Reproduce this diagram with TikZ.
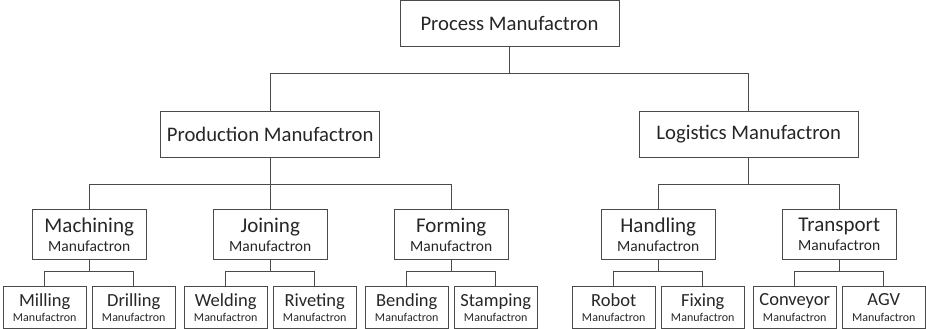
\documentclass[tikz,border=0pt]{standalone}
\usepackage{fontspec}
\setmainfont{Carlito}
\usetikzlibrary{trees}
\definecolor{boxline}{HTML}{4A4A4A}
\definecolor{boxtext}{HTML}{262626}
\newcommand{\midsub}{\fontsize{15.5}{19}\selectfont}
\newcommand{\leafsub}{\fontsize{12}{15.5}\selectfont}
\begin{document}
\begin{tikzpicture}
[level 1/.style={sibling distance=478.5pt, level distance=111pt, forkdrop=27pt},
level 2/.style={sibling distance=181pt, level distance=100pt, forkdrop=26pt},
level 3/.style={sibling distance=89pt, level distance=73pt, forkdrop=11pt}
]
\tikzset{every node/.style={draw=boxline,line width=0.9pt,text=boxtext,
                            shape=rectangle,inner sep=0pt,align=center},
         forkdrop/.style={edge from parent path={(\tikzparentnode.south)
                            -- ++(0,-#1) -| (\tikzchildnode.north)}},
         edge from parent/.style={draw=boxline,line width=0.9pt},
         headbox/.style={minimum width=219pt,minimum height=46pt,
                         font=\fontsize{20.7}{24}\selectfont},
         midbox/.style={minimum width=114pt,minimum height=50pt,
                        font=\fontsize{21}{19}\selectfont},
         leafbox/.style={minimum width=83pt,minimum height=42pt,
                         font=\fontsize{18.5}{15.5}\selectfont}}
\useasboundingbox (-509.5pt,23.5pt) rectangle (416.5pt,-305.5pt);
\node[headbox] (process) {Process Manufactron}
    child {
        node[headbox] (production) {Production Manufactron}
        child {
            node[midbox] (machining) {Machining\\{\midsub Manufactron}}
            child {
                node[leafbox] (milling) {Milling\\{\leafsub Manufactron}}
            }
            child {
                node[leafbox] (drilling) {Drilling\\{\leafsub Manufactron}}
            }
        }
        child {
            node[midbox] (joining) {Joining\\{\midsub Manufactron}}
            child {
                node[leafbox] (welding) {Welding\\{\leafsub Manufactron}}
            }
            child {
                node[leafbox] (riveting) {Riveting\\{\leafsub Manufactron}}
            }
        }
        child {
            node[midbox] (forming) {Forming\\{\midsub Manufactron}}
            child {
                node[leafbox] (bending) {Bending\\{\leafsub Manufactron}}
            }
            child {
                node[leafbox] (stamping) {Stamping\\{\leafsub Manufactron}}
            }
        }
    }
    child {
        node[headbox] (logistics) {Logistics Manufactron}
        child {
            node[midbox] (handling) {Handling\\{\midsub Manufactron}}
            child {
                node[leafbox] (robot) {Robot\\{\leafsub Manufactron}}
            }
            child {
                node[leafbox] (fixing) {Fixing\\{\leafsub Manufactron}}
            }
        }
        child {
            node[midbox] (transport) {Transport\\{\midsub Manufactron}}
            child {
                node[leafbox] (conveyor) {Conveyor\\{\leafsub Manufactron}}
            }
            child {
                node[leafbox] (agv) {AGV\\{\leafsub Manufactron}}
            }
        }
    }
    ;
\end{tikzpicture}
\end{document}
